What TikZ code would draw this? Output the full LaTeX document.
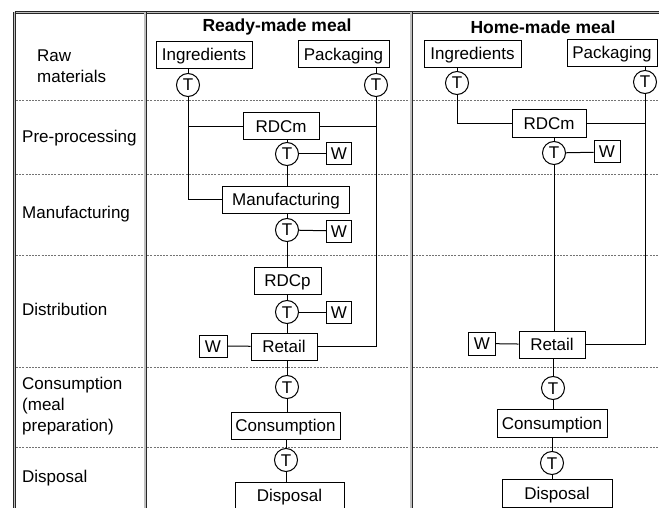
\documentclass[tikz,border=0pt]{standalone}
\usepackage{fontspec}
\setmainfont{Liberation Sans}
\begin{document}
\begin{tikzpicture}[x=1pt,y=-1pt,
  every node/.style={font=\fontsize{17}{21}\selectfont, inner sep=0pt},
  box/.style={draw, line width=1pt, minimum height=27pt, text height=12pt, text depth=0pt},
  wbox/.style={draw, line width=1pt, minimum width=25pt, minimum height=22pt, text height=12pt, text depth=0pt},
  tc/.style={draw, circle, line width=1pt, minimum size=23pt, text height=12pt, text depth=0pt},
  lbl/.style={anchor=west, align=left},
  conn/.style={line width=1pt},
  border/.style={draw=black!85, double=black!25, double distance=1.2pt, line width=0.9pt},
  sep/.style={draw=black!55, line width=0.5pt, dash pattern=on 2pt off 1.2pt}]
\useasboundingbox (0,0) rectangle (659,508);
\begin{scope}
\clip (0,0) rectangle (659,508);
% separators
\foreach \yy in {100,174,255,367,447} \draw[sep] (16,\yy) -- (659,\yy);
% borders
\draw[border] (14.5,12.5) -- (659,12.5);
\draw[border] (14.5,12.5) -- (14.5,508);
\draw[border] (145,12.5) -- (145,508);
\draw[border] (411,12.5) -- (411,508);

% row labels
\node[lbl] (lraw) at (37,66) {Raw\\materials};
\node[lbl] (lpre) at (22,138) {Pre-processing};
\node[lbl] (lman) at (22,214) {Manufacturing};
\node[lbl] (ldis) at (22,309) {Distribution};
\node[lbl] (lcon) at (22,406) {Consumption\\(meal\\preparation)};
\node[lbl] (ldsp) at (22,478) {Disposal};

% titles
\node[font=\fontsize{17.5}{21}\selectfont\bfseries] (title1) at (277,27) {Ready-made meal};
\node[font=\fontsize{17.5}{21}\selectfont\bfseries] (title2) at (543,27) {Home-made meal};

% ---------- Ready-made ----------
\node[box, minimum width=96pt] (ing1) at (204,55) {Ingredients};
\node[box, minimum width=91pt] (pack1) at (343.5,54.5) {Packaging};
\node[tc] (t1) at (188,85) {T};
\node[tc] (t2) at (376,85) {T};
\node[box, minimum width=76pt] (rdc1) at (281,126.5) {RDCm};
\node[tc] (tr1) at (287,154) {T};
\node[wbox] (w1) at (339,154) {W};
\node[box, minimum width=127pt, minimum height=26pt] (man1) at (286,200) {Manufacturing};
\node[tc] (tm1) at (287,230) {T};
\node[wbox] (w2) at (339,231) {W};
\node[box, minimum width=67pt] (rdcp) at (287.5,280.5) {RDCp};
\node[tc] (tp1) at (287,312) {T};
\node[wbox] (w3) at (339,312) {W};
\node[box, minimum width=66pt] (ret1) at (284,346.5) {Retail};
\node[wbox, minimum width=28pt] (w4) at (213,346) {W};
\node[tc] (tc1) at (287,387) {T};
\node[box, minimum width=109pt] (cons1) at (285.5,425.5) {Consumption};
\node[tc] (td1) at (286,460) {T};
\node[box, minimum width=109pt] (disp1) at (289.5,495.5) {Disposal};

\draw[conn] (t1.north) -- (t1.north |- ing1.south);
\draw[conn] (t2.north) -- (t2.north |- pack1.south);
\draw[conn] (t1.south) |- (man1.west);
\draw[conn] (t1 |- rdc1.west) -- (rdc1.west);
\draw[conn] (rdc1.east) -- (rdc1.east -| t2);
\draw[conn] (t2.south) |- (ret1.east);
\draw[conn] (tr1.north |- rdc1.south) -- (tr1.north);
\draw[conn] (tr1) -- (w1);
\draw[conn] (tr1.south) -- (tr1.south |- man1.north);
\draw[conn] (tm1.north |- man1.south) -- (tm1.north);
\draw[conn] (tm1) -- (w2);
\draw[conn] (tm1.south) -- (tm1.south |- rdcp.north);
\draw[conn] (tp1.north |- rdcp.south) -- (tp1.north);
\draw[conn] (tp1) -- (w3);
\draw[conn] (tp1.south) -- (tp1.south |- ret1.north);
\draw[conn] (w4) -- (ret1);
\draw[conn] (tc1.north |- ret1.south) -- (tc1.north);
\draw[conn] (tc1.south) -- (tc1.south |- cons1.north);
\draw[conn] (td1.north |- cons1.south) -- (td1.north);
\draw[conn] (td1.south) -- (td1.south |- disp1.north);

% ---------- Home-made ----------
\node[box, minimum width=97pt] (ing2) at (472.5,54) {Ingredients};
\node[box, minimum width=90pt] (pack2) at (612,53) {Packaging};
\node[tc] (th1) at (457,83) {T};
\node[tc] (th2) at (645,82) {T};
\node[box, minimum width=74pt, minimum height=28pt] (rdc2) at (549,124) {RDCm};
\node[tc] (tr2) at (554,153) {T};
\node[wbox, minimum width=26pt] (w5) at (607,152) {W};
\node[box, minimum width=66pt] (ret2) at (552,344.5) {Retail};
\node[wbox, minimum width=27pt, minimum height=23pt] (w6) at (482,343.5) {W};
\node[tc] (tc2) at (553,388) {T};
\node[box, minimum width=110pt, minimum height=28pt] (cons2) at (552,423) {Consumption};
\node[tc] (td2) at (552,463) {T};
\node[box, minimum width=110pt, minimum height=28pt] (disp2) at (557,493) {Disposal};

\draw[conn] (th1.north) -- (th1.north |- ing2.south);
\draw[conn] (th2.north) -- (th2.north |- pack2.south);
\draw[conn] (th1.south) |- (rdc2.west);
\draw[conn] (rdc2.east) -- (rdc2.east -| th2);
\draw[conn] (th2.south) |- (ret2.east);
\draw[conn] (tr2.north |- rdc2.south) -- (tr2.north);
\draw[conn] (tr2) -- (w5);
\draw[conn] (tr2.south) -- (tr2.south |- ret2.north);
\draw[conn] (w6) -- (ret2);
\draw[conn] (tc2.north |- ret2.south) -- (tc2.north);
\draw[conn] (tc2.south) -- (tc2.south |- cons2.north);
\draw[conn] (td2.north |- cons2.south) -- (td2.north);
\draw[conn] (td2.south) -- (td2.south |- disp2.north);
\end{scope}
\end{tikzpicture}
\end{document}
